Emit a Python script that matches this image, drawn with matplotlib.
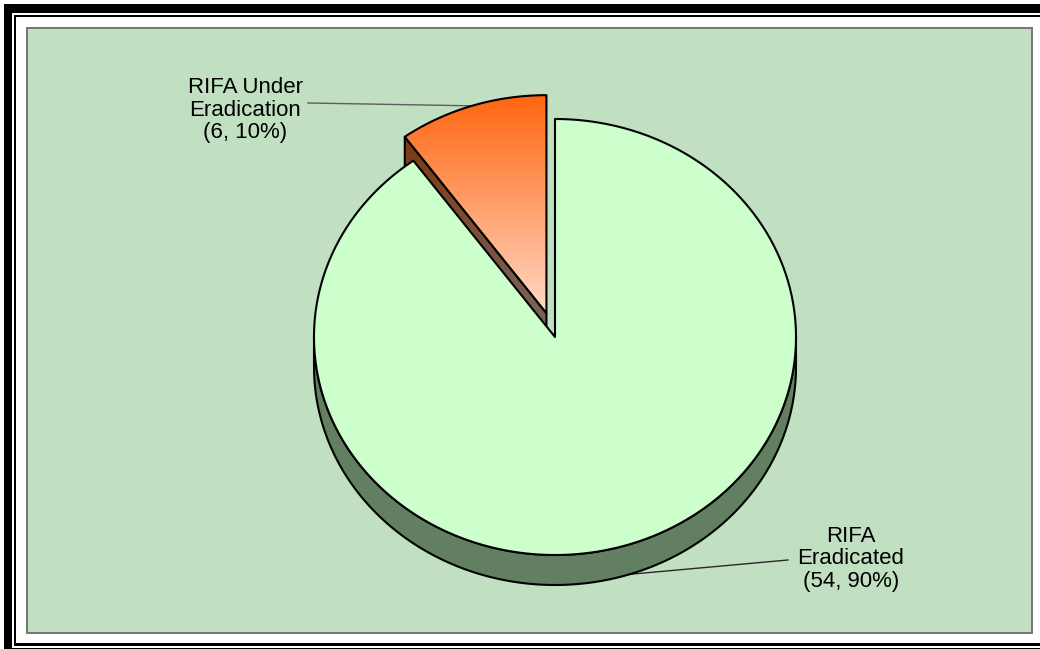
import numpy as np
import matplotlib.pyplot as plt
from matplotlib.patches import Polygon, Rectangle
from matplotlib.colors import LinearSegmentedColormap

# pie data
names = ['RIFA\nEradicated', 'RIFA Under\nEradication']
counts = [54, 6]
explode = [0.0, 0.115]
top_fill = ['#CCFFCC', ('#FF650F', '#FFD9C6')]
side_fill = ['#627F62', ('#7C3A12', '#7A6864')]
label_xy = [(851, 559), (245, 110)]
leader_colors = ['#2A2A2A', '#5E5E5E']

W, H = 1040, 649
cx, cy = 555, 337          # centre of the top face
rx, ry = 241, 218          # tilted ellipse radii
depth = 30

fig = plt.figure(figsize=(W / 100, H / 100), dpi=100)
ax = fig.add_axes([0, 0, 1, 1])
ax.set_xlim(0, W)
ax.set_ylim(H, 0)
ax.axis('off')

# double frame round the figure
for x, y, w, h in [(4, 4, 8, H), (4, 4, W, 9), (12, 647.8, W, 2),
                   (14, 15, 2, 631), (14, 15, W, 2), (14, 643, W, 3)]:
    ax.add_patch(Rectangle((x, y), w, h, facecolor='black', edgecolor='none', zorder=1))

# plot area
ax.add_patch(Rectangle((27, 28), 1005, 605, facecolor='#C1DFC1',
                       edgecolor='#747474', lw=1.4, zorder=2))


def pt(theta, ox, oy, dz=0.0):
    t = np.radians(theta)
    return cx + ox + rx * np.cos(t), cy + oy - ry * np.sin(t) + dz


def grad_fill(poly, c0, c1, z):
    xs, ys = poly[:, 0], poly[:, 1]
    cmap = LinearSegmentedColormap.from_list('g', [c0, c1])
    g = np.linspace(0, 1, 256).reshape(-1, 1)
    im = ax.imshow(g, cmap=cmap, aspect='auto', origin='upper',
                   extent=(xs.min(), xs.max(), ys.max(), ys.min()),
                   zorder=z, interpolation='bilinear')
    clip = Polygon(poly, closed=True, facecolor='none', edgecolor='none')
    ax.add_patch(clip)
    im.set_clip_path(clip)


def face(poly, fill, z):
    if isinstance(fill, tuple):
        grad_fill(poly, fill[0], fill[1], z)
        ax.add_patch(Polygon(poly, closed=True, facecolor='none',
                             edgecolor='black', lw=1.5, joinstyle='round', zorder=z + 0.1))
    else:
        ax.add_patch(Polygon(poly, closed=True, facecolor=fill,
                             edgecolor='black', lw=1.5, joinstyle='round', zorder=z))


total = sum(counts)
fracs = [c / total for c in counts]

# slices run clockwise from twelve o'clock
starts = 90 - 360 * np.concatenate([[0], np.cumsum(fracs)[:-1]])
ends = starts - 360 * np.array(fracs)

# back slice first so the front one overlaps it
order = np.argsort([np.sin(np.radians((s + e) / 2)) for s, e in zip(starts, ends)])[::-1]

for k, i in enumerate(order):
    a, b = ends[i], starts[i]          # counter-clockwise range a -> b
    mid = (a + b) / 2
    ox = explode[i] * rx * np.cos(np.radians(mid))
    oy = -explode[i] * ry * np.sin(np.radians(mid))
    z = 3 + 3 * k

    # radial side faces facing the viewer
    for edge, vis in [(a, np.cos(np.radians(a)) > 1e-6), (b, np.cos(np.radians(b)) < -1e-6)]:
        if vis:
            p0 = pt(edge, ox, oy)
            c0 = (cx + ox, cy + oy)
            poly = np.array([c0, p0, (p0[0], p0[1] + depth), (c0[0], c0[1] + depth)])
            face(poly, side_fill[i], z)

    # outer curved wall on the front half
    for n in range(-2, 2):
        lo, hi = max(a, 180 + 360 * n), min(b, 360 + 360 * n)
        if hi > lo:
            th = np.linspace(lo, hi, 200)
            upper = np.column_stack(pt(th, ox, oy))
            lower = np.column_stack(pt(th[::-1], ox, oy, depth))
            face(np.vstack([upper, lower]), side_fill[i], z)

    # top face
    th = np.linspace(a, b, 400)
    arc = np.column_stack(pt(th, ox, oy))
    top = np.vstack([[cx + ox, cy + oy], arc])
    face(top, top_fill[i], z + 1)

    # label and leader line
    lab = f"{names[i]}\n({counts[i]}, {round(100 * fracs[i])}%)"
    tx, ty = label_xy[i]
    ax.text(tx, ty, lab, ha='center', va='center', fontsize=16,
            family='Liberation Sans', linespacing=1.12, color='black', zorder=20)
    if np.sin(np.radians(mid)) < 0:
        ex, ey = pt(mid, ox, oy, depth)
        sx, sy = tx - 63, ty + 1
    else:
        ex, ey = pt(mid, ox, oy)
        sx, sy = tx + 63, ty - 7
    ax.plot([sx, ex], [sy, ey], color=leader_colors[i], lw=1.0, zorder=2.5)

fig.savefig('out.png', dpi=100)
